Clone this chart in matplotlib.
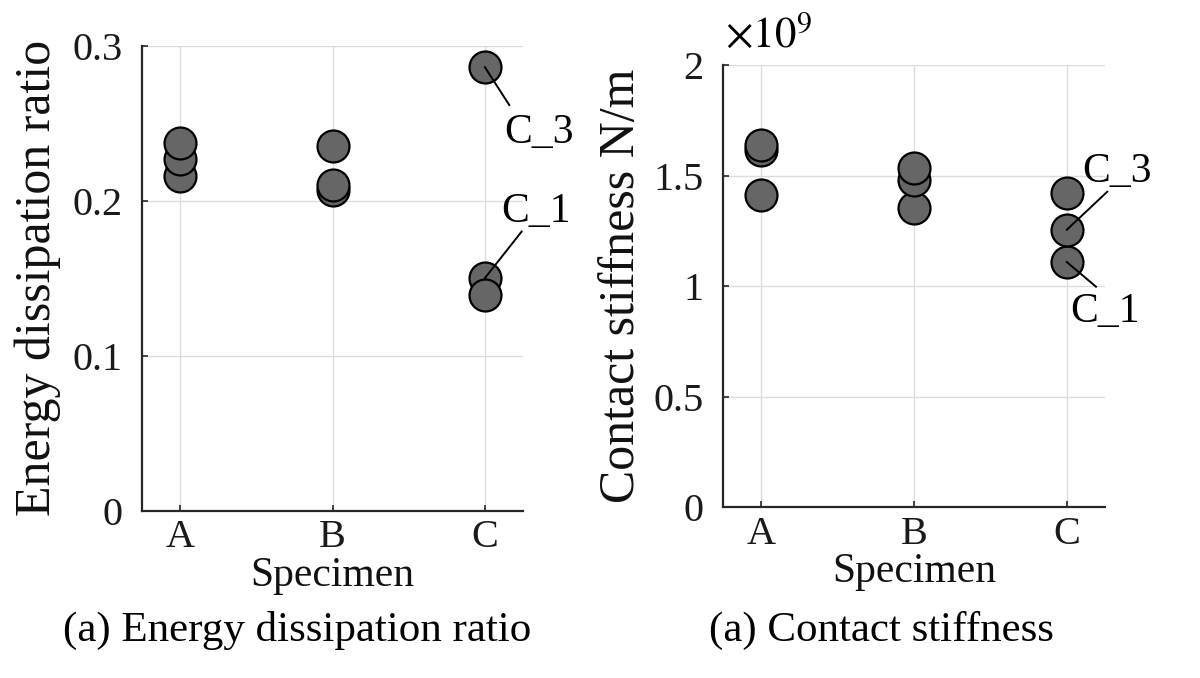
import matplotlib
matplotlib.use("Agg")
import matplotlib.pyplot as plt

plt.rcParams['font.family'] = ['Liberation Serif', 'DejaVu Serif']
plt.rcParams['mathtext.fontset'] = 'stix'

specimens = ['A', 'B', 'C']
# Energy dissipation ratio (three tests per specimen: _1, _2, _3)
edr_A = [0.216, 0.227, 0.237]
edr_B = [0.207, 0.210, 0.235]
edr_C = [0.150, 0.139, 0.286]
# Contact stiffness (x 1e9 N/m)
ks_A = [1.413, 1.617, 1.640]
ks_B = [1.353, 1.478, 1.534]
ks_C = [1.109, 1.255, 1.421]

edr = [edr_A, edr_B, edr_C]
ks = [ks_A, ks_B, ks_C]

W, H = 1200, 678
fig = plt.figure(figsize=(W / 100, H / 100), dpi=100)
ax1 = fig.add_axes([142 / W, 1 - 510.7 / H, 381 / W, 465.2 / H])
ax2 = fig.add_axes([723 / W, 1 - 507.3 / H, 382 / W, 442.3 / H])

FS = 29
FS_XL = 30
FS_YL = 36
FS_CAP = 31
FS_ANN = 30
axcol = '#262626'
face = '#666666'


def style(ax, yticks, ylabels, ylim):
    ax.set_xlim(0.75, 3.25)
    ax.set_ylim(*ylim)
    ax.set_xticks([1, 2, 3])
    ax.set_xticklabels(specimens)
    ax.set_yticks(yticks)
    ax.set_yticklabels(ylabels)
    for s in ['top', 'right']:
        ax.spines[s].set_visible(False)
    for s in ['left', 'bottom']:
        ax.spines[s].set_color(axcol)
        ax.spines[s].set_linewidth(1.6)
    ax.tick_params(axis='both', direction='in', length=4, width=1.2,
                   colors=axcol, labelsize=FS, labelcolor='#1a1a1a')
    ax.tick_params(axis='y', pad=14)
    ax.tick_params(axis='x', pad=6)
    ax.grid(True, color='#dcdcdc', linewidth=1.0)
    ax.set_axisbelow(True)
    ax.set_xlabel('Specimen', fontsize=FS_XL, labelpad=0, color='#111111')


for i, vals in enumerate(edr):
    ax1.plot([i + 1] * len(vals), vals, 'o', ms=23, mfc=face, mec='black',
             mew=1.6, clip_on=False, zorder=3)
for i, vals in enumerate(ks):
    ax2.plot([i + 1] * len(vals), vals, 'o', ms=23, mfc=face, mec='black',
             mew=1.6, clip_on=False, zorder=3)

style(ax1, [0, 0.1, 0.2, 0.3], ['0', '0.1', '0.2', '0.3'], (0, 0.3))
style(ax2, [0, 0.5, 1, 1.5, 2], ['0', '0.5', '1', '1.5', '2'], (0, 2))
ax1.set_ylabel('Energy dissipation ratio', fontsize=FS_YL, labelpad=8, color='#111111')
ax2.set_ylabel('Contact stiffness N/m', fontsize=FS_YL, labelpad=6, color='#111111')

# annotations
def label(ax, x, y, lx, ly, tx, ty, txt):
    ax.plot([x, lx], [y, ly], color='black', lw=1.4, zorder=4, clip_on=False)
    ax.text(tx, ty, txt, fontsize=FS_ANN, ha='center', va='center', zorder=5,
            clip_on=False)

label(ax1, 3, edr_C[2], 3.160, 0.2616, 3.355, 0.2436, 'C_3')
label(ax1, 3, edr_C[0], 3.241, 0.180, 3.335, 0.1931, 'C_1')
label(ax2, 3, ks_C[1], 3.265, 1.427, 3.329, 1.517, 'C_3')
label(ax2, 3, ks_C[0], 3.191, 0.9975, 3.25, 0.883, 'C_1')

ax2.text(0.005, 1.02, r'$\times 10^{9}$', transform=ax2.transAxes, fontsize=31,
         ha='left', va='bottom')

fig.text(297 / W, 1 - 630 / H, '(a) Energy dissipation ratio', fontsize=FS_CAP,
         ha='center', va='center')
fig.text(881 / W, 1 - 630 / H, '(a) Contact stiffness', fontsize=FS_CAP,
         ha='center', va='center')

fig.savefig('out.png', dpi=100)
